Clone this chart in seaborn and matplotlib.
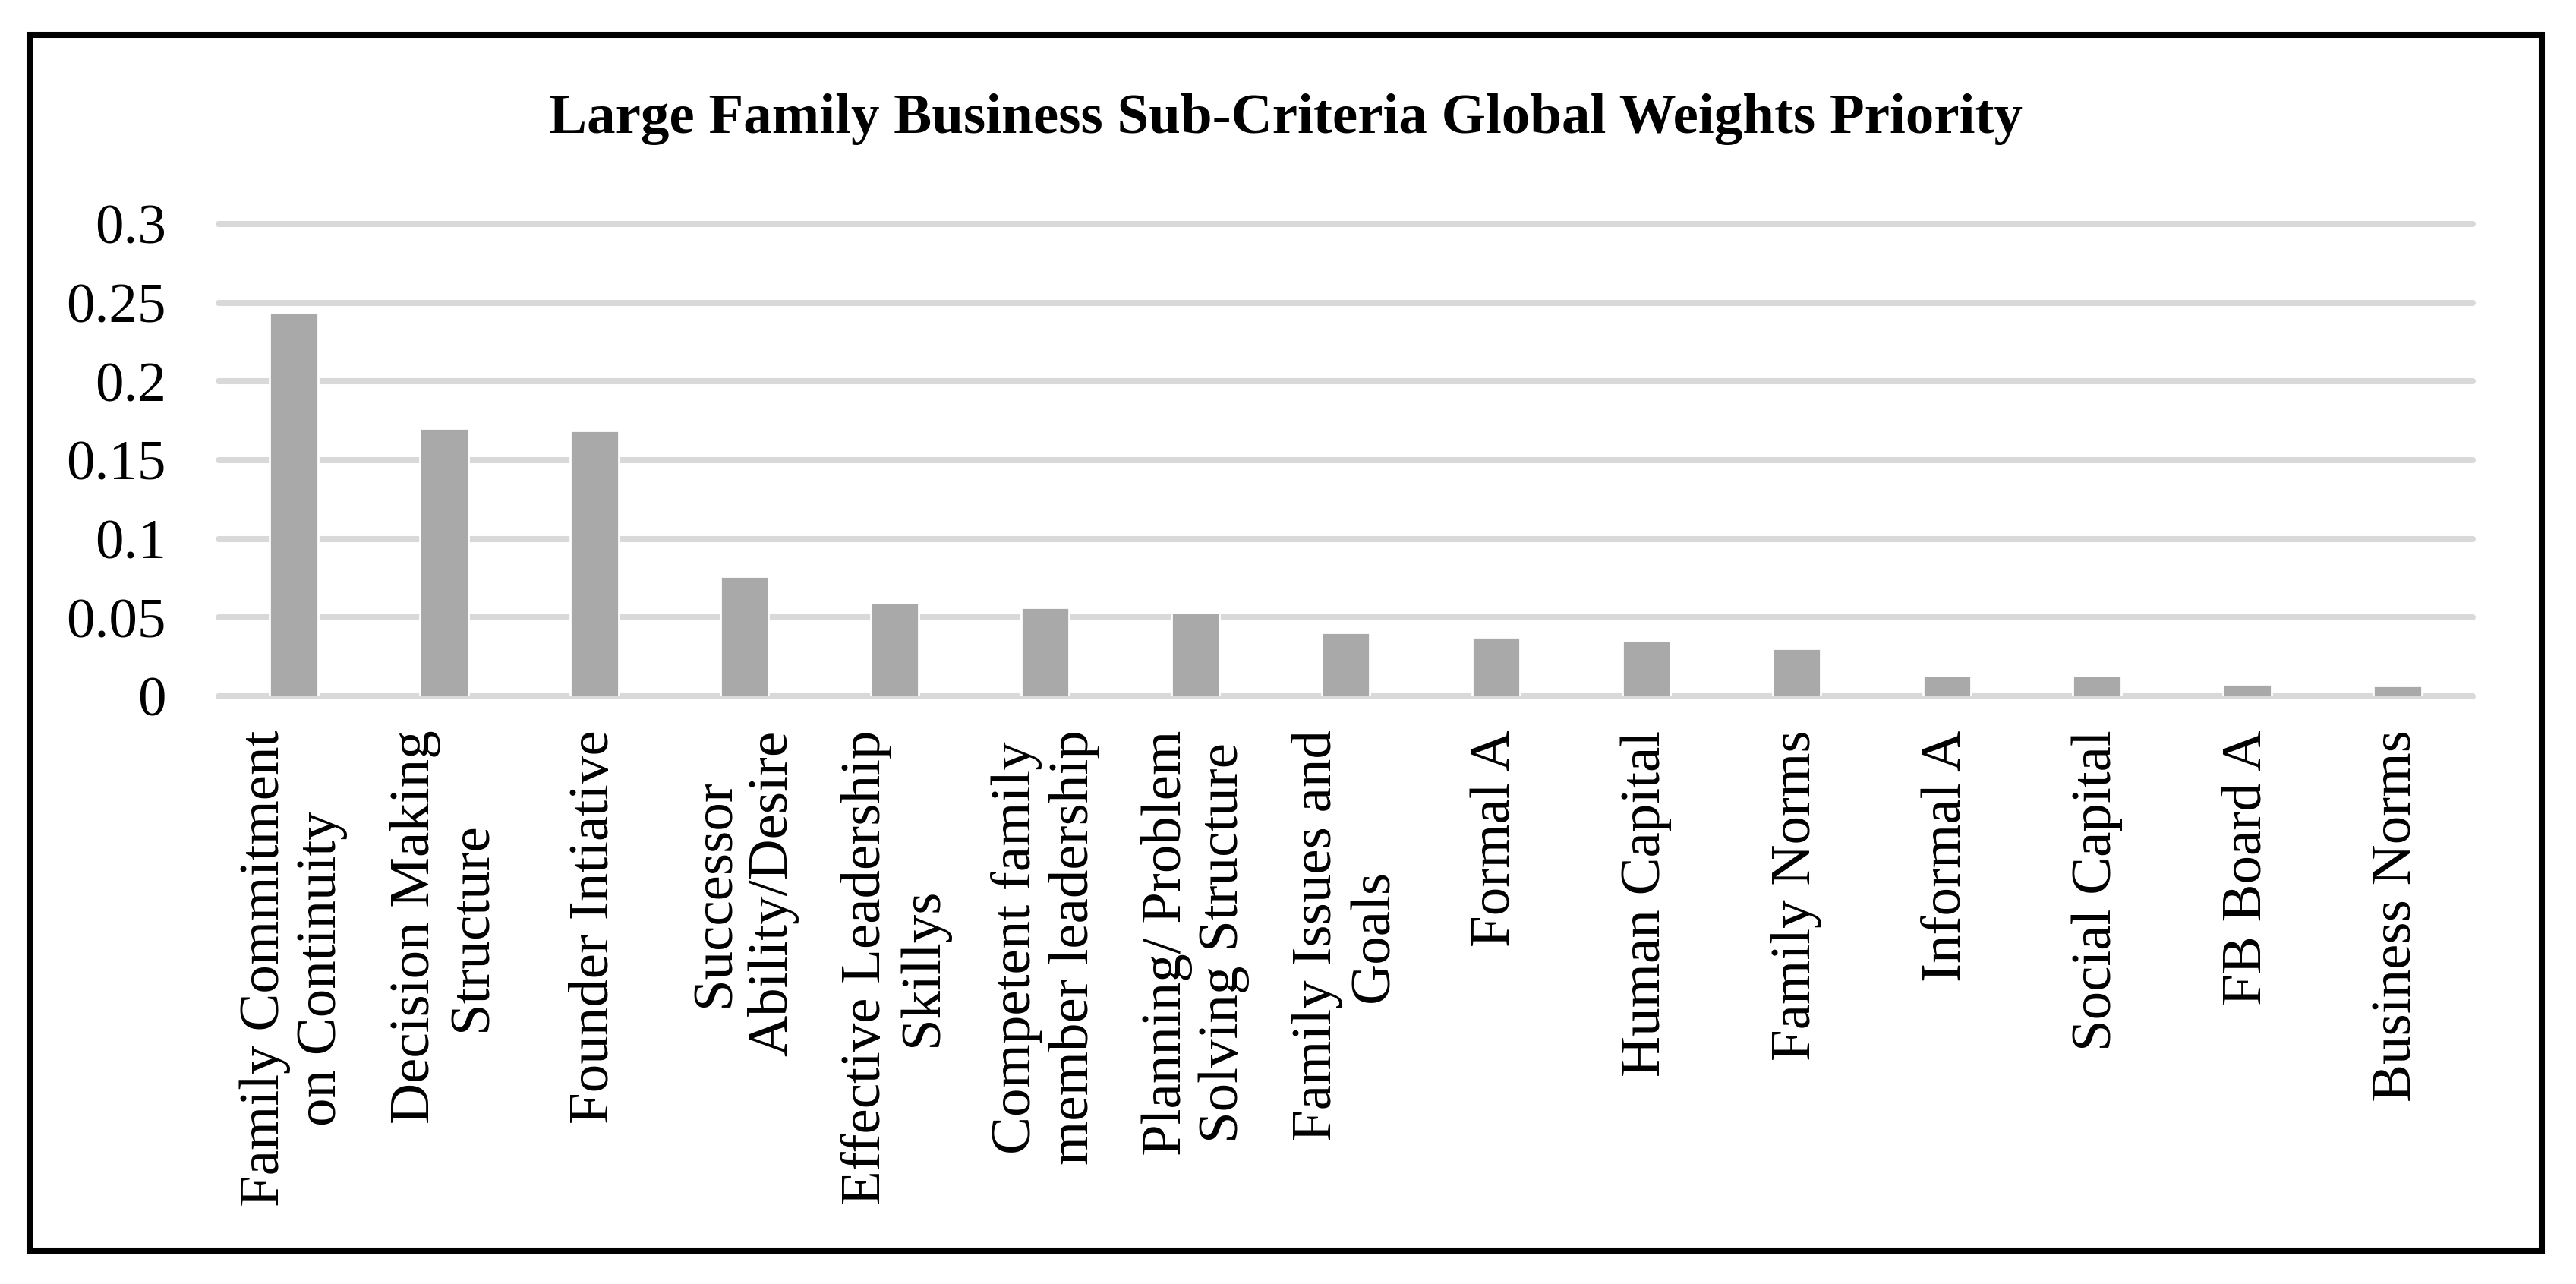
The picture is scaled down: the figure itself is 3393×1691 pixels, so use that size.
import matplotlib
matplotlib.use("Agg")
import matplotlib.pyplot as plt
import seaborn as sns
import pandas as pd
from matplotlib.patches import Rectangle

categories = [
    "Family Commitment\non Continuity",
    "Decision Making\nStructure",
    "Founder Intiative",
    "Successor\nAbility/Desire",
    "Effective Leadership\nSkillys",
    "Competent family\nmember leadership",
    "Planning/ Problem\nSolving Structure",
    "Family Issues and\nGoals",
    "Formal A",
    "Human Capital",
    "Family Norms",
    "Informal A",
    "Social Capital",
    "FB Board A",
    "Business Norms",
]
weights = [0.2434, 0.1703, 0.1688, 0.0763, 0.0594, 0.0566, 0.0531, 0.0406,
           0.0378, 0.0353, 0.0305, 0.0131, 0.0131, 0.0075, 0.0069]
yticks = [0, 0.05, 0.1, 0.15, 0.2, 0.25, 0.3]
ytick_labels = ["0", "0.05", "0.1", "0.15", "0.2", "0.25", "0.3"]
title = "Large Family Business Sub-Criteria Global Weights Priority"

sns.set_theme(style="white")
plt.rcParams['font.family'] = ['Liberation Serif', 'DejaVu Serif']
plt.rcParams['text.color'] = 'black'
plt.rcParams['xtick.color'] = 'black'
plt.rcParams['ytick.color'] = 'black'
plt.rcParams['axes.labelcolor'] = 'black'

W, H, DPI = 3393, 1691, 200
fig = plt.figure(figsize=(W / DPI, H / DPI), dpi=DPI)
ax = fig.add_axes([288 / W, 1 - 917 / H, (3257 - 288) / W, (917 - 295) / H])

df = pd.DataFrame({"cat": categories, "w": weights})
sns.barplot(data=df, x="cat", y="w", color="#A9A9A9", saturation=1,
            width=0.32, ax=ax, zorder=3)

ax.set_ylim(0, 0.3)
ax.set_xlim(-0.5, len(categories) - 0.5)
ax.set_yticks(yticks)
ax.set_yticklabels(ytick_labels, fontsize=27, color="black")
ax.set_xlabel("")
ax.set_ylabel("")
ax.set_xticks(range(len(categories)))
ax.set_xticklabels(categories, rotation=90, ha="center", va="top",
                   fontsize=27, linespacing=1.15, multialignment="center",
                   color="black")
ax.tick_params(axis="y", length=0, pad=25)
ax.tick_params(axis="x", length=0, pad=16)
for s in ax.spines.values():
    s.set_visible(False)
ax.yaxis.grid(True, color="#D9D9D9", linewidth=2.9, zorder=0)
ax.set_axisbelow(True)
for gl in ax.get_ygridlines():
    gl.set_clip_on(False)

fig.text(0.499, 1 - 157 / H, title, ha="center", va="center",
         fontsize=27, fontweight="bold", color="black")

rect = Rectangle((39 / W, 1 - 1647 / H), (3348 - 39) / W, (1647 - 46) / H,
                 transform=fig.transFigure, fill=False, edgecolor="black",
                 linewidth=2.9)
fig.patches.append(rect)

fig.savefig("out.png", dpi=DPI, facecolor="white")
